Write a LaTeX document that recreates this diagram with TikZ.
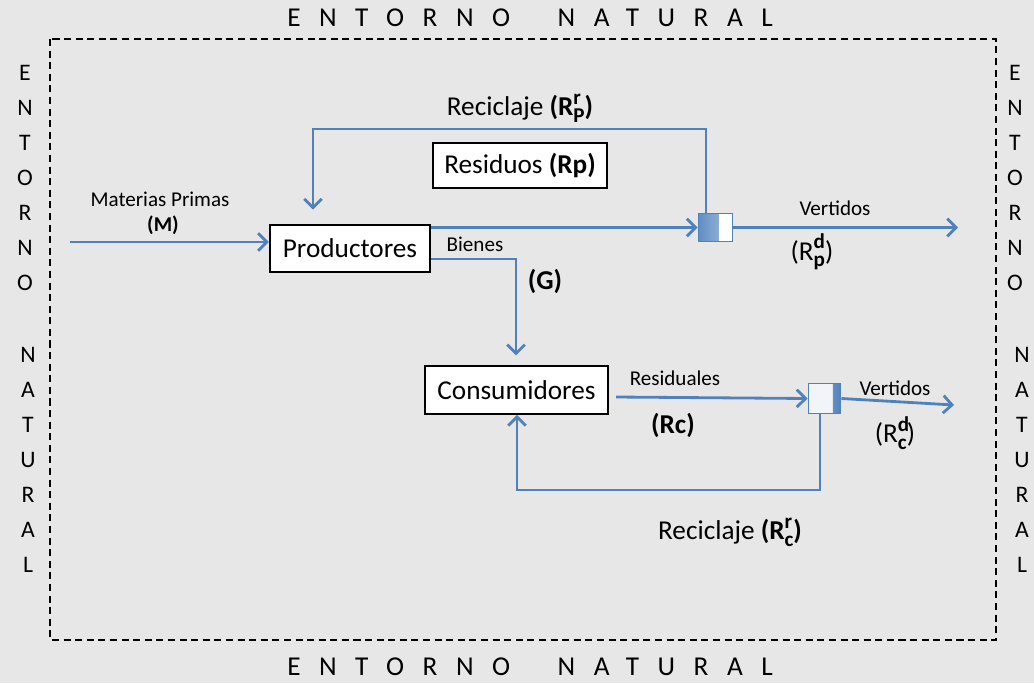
\documentclass[tikz,border=0pt]{standalone}
\usepackage{fontspec}
\setmainfont{Carlito}
\newfontfamily\espaciado[LetterSpace=68]{Carlito}
\usetikzlibrary{arrows.meta,calc}
\definecolor{flujo}{HTML}{4F81BD}
\definecolor{fondo}{HTML}{E7E7E7}
\newcommand\supsub[2]{\makebox[0pt][l]{\raisebox{0.85ex}{\fontsize{12}{12}\selectfont\bfseries #1}}\raisebox{-0.5ex}{\fontsize{12}{12}\selectfont\bfseries #2}}
\tikzset{
  flecha/.style={draw=flujo, line width=1.6pt, -{Straight Barb[length=5pt,width=10pt]}},
  caja/.style={draw=black, line width=1.3pt, fill=white, inner sep=2pt, font=\fontsize{15.5}{18}\selectfont},
  grande/.style={font=\fontsize{15.5}{18}\selectfont, inner sep=1pt},
  chico/.style={font=\fontsize{12}{14}\selectfont, inner sep=1pt},
  columna/.style={font=\fontsize{13.5}{19.9}\selectfont, align=center, inner sep=0pt},
  borde/.style={font=\espaciado\fontsize{15.5}{18}\selectfont, inner sep=0pt}
}
\begin{document}
\begin{tikzpicture}[x=0.02cm, y=-0.02cm]
  %%%%% FONDO %%%%%
  \fill[fondo] (0,0) rectangle (1034,683);
  \useasboundingbox (0,0) rectangle (1034,683);
  \draw[line width=0.8pt, dash pattern=on 4pt off 2.6pt] (50,39) rectangle (996,640);

  \node[borde] (arriba) at (530,18) {ENTORNO\hspace{13pt} NATURAL};
  \node[borde] (abajo) at (530,667) {ENTORNO\hspace{13pt} NATURAL};
  \node[columna] (izq1) at (25,178) {E\\N\\T\\O\\R\\N\\O};
  \node[columna] (izq2) at (28,460) {N\\A\\T\\U\\R\\A\\L};
  \node[columna] (der1) at (1015,178) {E\\N\\T\\O\\R\\N\\O};
  \node[columna] (der2) at (1022,460) {N\\A\\T\\U\\R\\A\\L};

  %%%%% CAJAS %%%%%
  \node[caja, minimum width=91pt, minimum height=27pt] (prod) at (350,248.5) {Productores};
  \node[caja, minimum width=99pt, minimum height=25.5pt] (resid) at (520,165.5) {Residuos \textbf{(Rp)}};
  \node[caja, minimum width=104pt, minimum height=27pt] (cons) at (516.5,390) {Consumidores};

  \node[draw=flujo, line width=0.8pt, minimum width=19.5pt, minimum height=16pt, inner sep=0pt,
        path picture={
          \shade[left color=flujo!90, right color=flujo!50] (path picture bounding box.south west) rectangle ($(path picture bounding box.north east)+(-14,0)$);
          \fill[white] ($(path picture bounding box.north east)+(-14,0)$) rectangle (path picture bounding box.south east);
        }] (sep1) at (715.5,227.5) {};
  \node[draw=flujo, line width=0.8pt, fill=white!92!flujo, minimum width=18.5pt, minimum height=17pt, inner sep=0pt,
        path picture={
          \shade[left color=flujo!55, right color=flujo] ($(path picture bounding box.north east)+(-8,0)$) rectangle (path picture bounding box.south east);
        }] (sep2) at (824.5,398.5) {};

  %%%%% FLUJOS %%%%%
  \coordinate (mIn) at (70,242);
  \draw[flecha] (mIn) -- (mIn -| prod.west);
  \draw[flecha] (prod.east |- sep1.west) -- (sep1.west);

  \coordinate (vueltaP) at (706,129);
  \coordinate (recP) at (313,129);
  \draw[flecha, shorten >=8pt] (sep1.north -| vueltaP) -- (vueltaP) -- (recP) -- (recP |- prod.north);

  \coordinate (vertP) at (958,227.5);
  \draw[flecha] (sep1.east) -- (vertP);

  \coordinate (codo) at (516,259);
  \draw[flecha, shorten >=5.5pt] (prod.east |- codo) -- (codo) -- (codo |- cons.north);

  \coordinate (resSal) at (616,397);
  \draw[flecha] (resSal) -- (sep2.west);

  \coordinate (vertC) at (954,405);
  \draw[flecha] (sep2.east) -- (vertC);

  \coordinate (vueltaC) at (820,490);
  \coordinate (recC) at (517,490);
  \draw[flecha] (sep2.south -| vueltaC) -- (vueltaC) -- (recC) -- (recC |- cons.south);

  %%%%% ETIQUETAS %%%%%
  \node[grande] (etRecP) at (520,108) {Reciclaje \textbf{(R\supsub{r}{P})}};
  \node[chico] (etMat) at (160,199) {Materias Primas};
  \node[chico, font=\fontsize{12}{14}\selectfont\bfseries] (etM) at (163,225) {(M)};
  \node[chico] (etVertP) at (835,208) {Vertidos};
  \node[grande] (etRdP) at (812,252) {(R\supsub{d}{p})};
  \node[chico] (etBienes) at (475,244) {Bienes};
  \node[grande, font=\fontsize{15.5}{18}\selectfont\bfseries] (etG) at (545,281) {(G)};
  \node[chico] (etResid) at (675,378) {Residuales};
  \node[grande, font=\fontsize{15.5}{18}\selectfont\bfseries] (etRc) at (673,425) {(Rc)};
  \node[chico] (etVertC) at (895,388) {Vertidos};
  \node[grande] (etRdC) at (895,433) {(R\supsub{d}{c})};
  \node[grande] (etRecC) at (730,532) {Reciclaje \textbf{(R\supsub{r}{c})}};
\end{tikzpicture}
\end{document}
